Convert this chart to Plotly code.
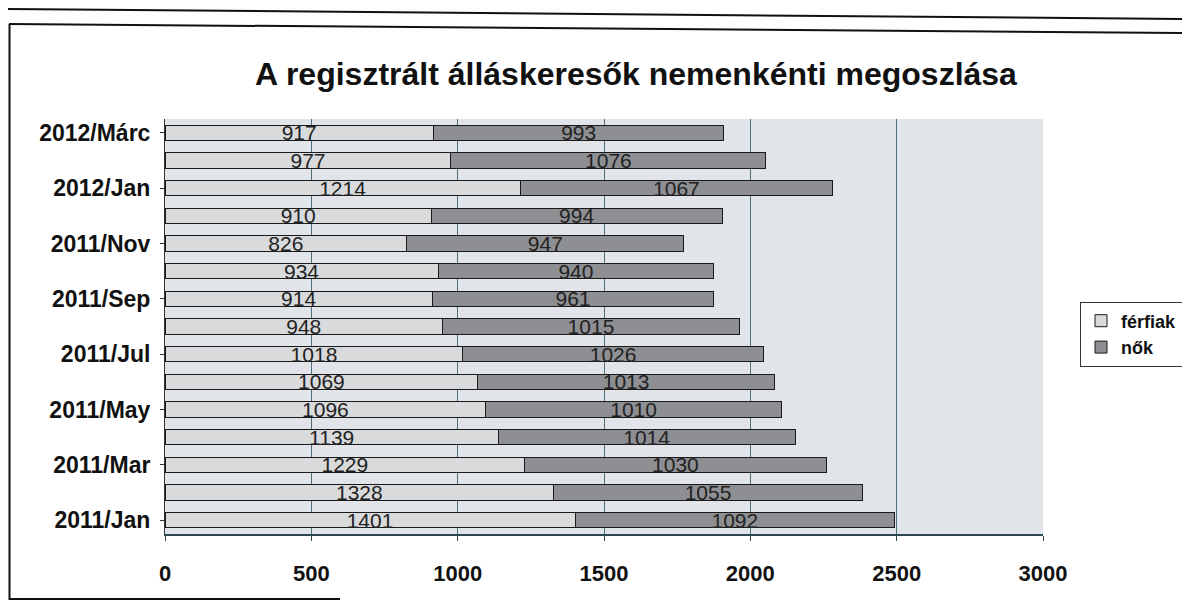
import plotly.graph_objects as go

months = ["2011/Jan", "2011/Feb", "2011/Mar", "2011/Apr", "2011/May", "2011/Jun",
          "2011/Jul", "2011/Aug", "2011/Sep", "2011/Oct", "2011/Nov", "2011/Dec",
          "2012/Jan", "2012/Feb", "2012/Márc"]
ferfiak = [1401, 1328, 1229, 1139, 1096, 1069, 1018, 948, 914, 934, 826, 910, 1214, 977, 917]
nok = [1092, 1055, 1030, 1014, 1010, 1013, 1026, 1015, 961, 940, 947, 994, 1067, 1076, 993]
shown_ticks = ["2011/Jan", "2011/Mar", "2011/May", "2011/Jul", "2011/Sep", "2011/Nov", "2012/Jan", "2012/Márc"]
x_ticks = [0, 500, 1000, 1500, 2000, 2500, 3000]

FONT = "Liberation Sans, Arial, sans-serif"

fig = go.Figure()
fig.add_trace(go.Bar(
    y=months, x=ferfiak, orientation="h", name="férfiak",
    marker=dict(color="#D9DADC", line=dict(color="#1a1a1a", width=1)),
    text=[str(v) for v in ferfiak], textposition="inside", insidetextanchor="middle",
    textfont=dict(size=21, color="#222222", family=FONT), textangle=0,
))
fig.add_trace(go.Bar(
    y=months, x=nok, orientation="h", name="nők",
    marker=dict(color="#8E8F92", line=dict(color="#1a1a1a", width=1)),
    text=[str(v) for v in nok], textposition="inside", insidetextanchor="middle",
    textfont=dict(size=21, color="#222222", family=FONT), textangle=0,
))

OFF = 8  # page body margin
W, H = 1190, 610
# screen targets: plot x 165..1043, y 119..534
L, R = 165 - OFF, W - (1043 - OFF)
T, B = 119 - OFF, H - (534 - OFF)
pw, ph = W - L - R, H - T - B


def px(xp):
    return (xp - OFF - L) / pw


def py(yp):
    return (H - B - (yp - OFF)) / ph


line_style = dict(color="#111111", width=2)
shapes = [
    dict(type="line", xref="paper", yref="paper", x0=px(8), y0=py(9), x1=px(1190), y1=py(19), line=line_style),
    dict(type="line", xref="paper", yref="paper", x0=px(9), y0=py(24), x1=px(1190), y1=py(33), line=line_style),
    dict(type="line", xref="paper", yref="paper", x0=px(9.5), y0=py(24), x1=px(9.5), y1=py(600), line=line_style),
    dict(type="line", xref="paper", yref="paper", x0=px(9), y0=py(599), x1=px(340), y1=py(599), line=line_style),
]

fig.update_layout(
    width=W, height=H,
    margin=dict(l=L, r=R, t=T, b=B, autoexpand=False),
    paper_bgcolor="white",
    plot_bgcolor="#E1E5EA",
    barmode="stack",
    bargap=0.45,
    uniformtext=dict(minsize=10, mode="show"),
    title=dict(text="<b>A regisztrált álláskeresők nemenkénti megoszlása</b>",
               x=px(636), xanchor="center", y=1 - (74 - OFF) / H, yanchor="middle",
               xref="paper",
               font=dict(size=32, color="#111111", family=FONT)),
    font=dict(family=FONT, color="#111111"),
    legend=dict(x=px(1080), y=py(334), xanchor="left", yanchor="middle",
                bgcolor="white", bordercolor="#333333", borderwidth=1,
                font=dict(size=18, family=FONT, color="#111111", weight="bold"),
                traceorder="normal", itemwidth=30),
    shapes=shapes,
    xaxis=dict(range=[0, 3000], tickvals=x_ticks, showgrid=True, gridcolor="#4f6f7a", gridwidth=1,
               zeroline=False, showline=True, linecolor="#2f4a55", linewidth=1.5, automargin=False,
               ticks="outside", ticklen=5, tickcolor="#2f4a55", ticklabelstandoff=14,
               tickfont=dict(size=22, family=FONT, color="#111111", weight="bold")),
    yaxis=dict(type="category", categoryorder="array", categoryarray=months,
               tickvals=shown_ticks, ticktext=shown_ticks, showgrid=False, automargin=False,
               showline=True, linecolor="#333333", linewidth=1,
               ticks="outside", ticklen=4, tickcolor="#333333", ticklabelstandoff=5,
               tickfont=dict(size=23, family=FONT, color="#111111", weight="bold")),
)

fig.write_html("out.html")
